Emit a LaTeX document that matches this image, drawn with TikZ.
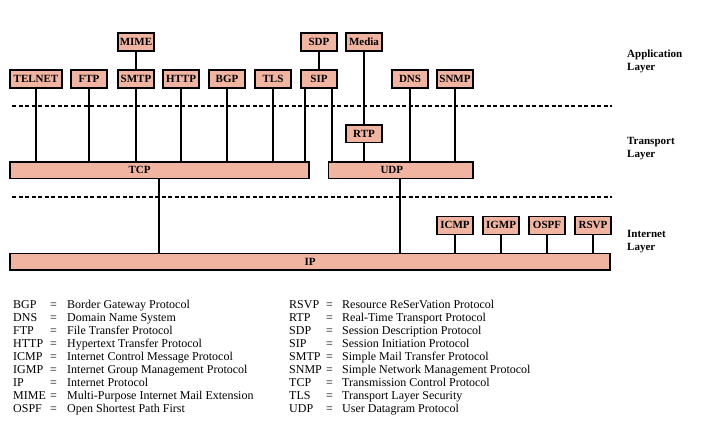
\documentclass[tikz,border=0pt]{standalone}
\usepackage{fontspec}
\setmainfont{Liberation Serif}
\definecolor{salmon}{RGB}{240,180,160}
\begin{document}
\begin{tikzpicture}[x=1pt,y=-1pt,
  proto/.style={draw=black, fill=salmon, line width=1.6pt, inner sep=0pt,
    font=\bfseries\fontsize{11}{13}\selectfont, minimum height=17.8pt},
  sm/.style={proto, minimum width=35.5pt},
  wire/.style={line width=1.5pt},
  sep/.style={line width=1.5pt, dash pattern=on 4pt off 2.5pt},
  layerlbl/.style={anchor=west, align=left, inner sep=0pt,
    font=\bfseries\fontsize{11}{13}\selectfont},
  leg/.style={anchor=base west, inner sep=0pt, font=\fontsize{12}{13}\selectfont}]
\useasboundingbox (0,0) rectangle (702,432);
% application layer
\node[sm] (MIME)  at (136,42) {MIME};
\node[sm] (SDP)   at (319,42) {SDP};
\node[sm] (Media) at (364,42) {Media};
\node[proto, minimum width=51.5pt] (TELNET) at (36,79) {TELNET};
\node[sm] (FTP)  at (89,79)  {FTP};
\node[sm] (SMTP) at (136,79) {SMTP};
\node[sm] (HTTP) at (181,79) {HTTP};
\node[sm] (BGP)  at (227,79) {BGP};
\node[sm] (TLS)  at (273,79) {TLS};
\node[sm] (SIP)  at (319,79) {SIP};
\node[sm] (DNS)  at (410,79) {DNS};
\node[sm] (SNMP) at (455,79) {SNMP};
% transport layer
\node[sm] (RTP) at (364,133.7) {RTP};
\node[proto, minimum width=299pt, minimum height=16.8pt] (TCP) at (159.6,170.2) {TCP\hspace*{40pt}};
\node[proto, minimum width=144.8pt, minimum height=16.8pt] (UDP) at (400.8,170.2) {UDP\hspace*{18pt}};
% internet layer
\node[sm] (ICMP) at (455,225.4) {ICMP};
\node[sm] (IGMP) at (501,225.4) {IGMP};
\node[sm] (OSPF) at (547,225.4) {OSPF};
\node[sm] (RSVP) at (593,225.4) {RSVP};
\node[proto, minimum width=600pt, minimum height=16.5pt] (IP) at (310.2,261.7) {IP};
% x positions of off-centre wires
\coordinate (xa) at (305,0);
\coordinate (xb) at (332,0);
\coordinate (xc) at (159,0);
\coordinate (xd) at (400,0);
% wires
\draw[wire] (MIME.south) -- (SMTP.north);
\draw[wire] (SDP.south) -- (SIP.north);
\draw[wire] (Media.south) -- (RTP.north);
\foreach \n in {TELNET,FTP,SMTP,HTTP,BGP,TLS}
  \draw[wire] (\n.south) -- (\n.south |- TCP.north);
\draw[wire] (SIP.south -| xa) -- (TCP.north -| xa);
\draw[wire] (SIP.south -| xb) -- (UDP.north -| xb);
\foreach \n in {RTP,DNS,SNMP}
  \draw[wire] (\n.south) -- (\n.south |- UDP.north);
\draw[wire] (TCP.south -| xc) -- (IP.north -| xc);
\draw[wire] (UDP.south -| xd) -- (IP.north -| xd);
\foreach \n in {ICMP,IGMP,OSPF,RSVP}
  \draw[wire] (\n.south) -- (\n.south |- IP.north);
% layer separators
\coordinate (s1a) at (12,106);  \coordinate (s1b) at (612,106);
\coordinate (s2a) at (12,197);  \coordinate (s2b) at (612,197);
\draw[sep] (s1a) -- (s1b);
\draw[sep] (s2a) -- (s2b);
% layer labels
\node[layerlbl] (lapp) at (627,61.5)  {Application\\Layer};
\node[layerlbl] (ltra) at (627,148.5) {Transport\\Layer};
\node[layerlbl] (lint) at (627,242)   {Internet\\Layer};
% legend
\foreach \a/\d [count=\i from 0] in {BGP/Border Gateway Protocol,
  DNS/Domain Name System, FTP/File Transfer Protocol,
  HTTP/Hypertext Transfer Protocol, ICMP/Internet Control Message Protocol,
  IGMP/Internet Group Management Protocol, IP/Internet Protocol,
  MIME/Multi-Purpose Internet Mail Extension, OSPF/Open Shortest Path First} {
  \node[leg] (la\i) at (13,{308.3+13*\i}) {\a};
  \node[leg] (le\i) at (50,{308.3+13*\i}) {=};
  \node[leg] (ld\i) at (67,{308.3+13*\i}) {\d};
}
\foreach \a/\d [count=\i from 0] in {RSVP/Resource ReSerVation Protocol,
  RTP/Real-Time Transport Protocol, SDP/Session Description Protocol,
  SIP/Session Initiation Protocol, SMTP/Simple Mail Transfer Protocol,
  SNMP/Simple Network Management Protocol, TCP/Transmission Control Protocol,
  TLS/Transport Layer Security, UDP/User Datagram Protocol} {
  \node[leg] (ra\i) at (289,{308.3+13*\i}) {\a};
  \node[leg] (re\i) at (326,{308.3+13*\i}) {=};
  \node[leg] (rd\i) at (342,{308.3+13*\i}) {\d};
}
\end{tikzpicture}
\end{document}
